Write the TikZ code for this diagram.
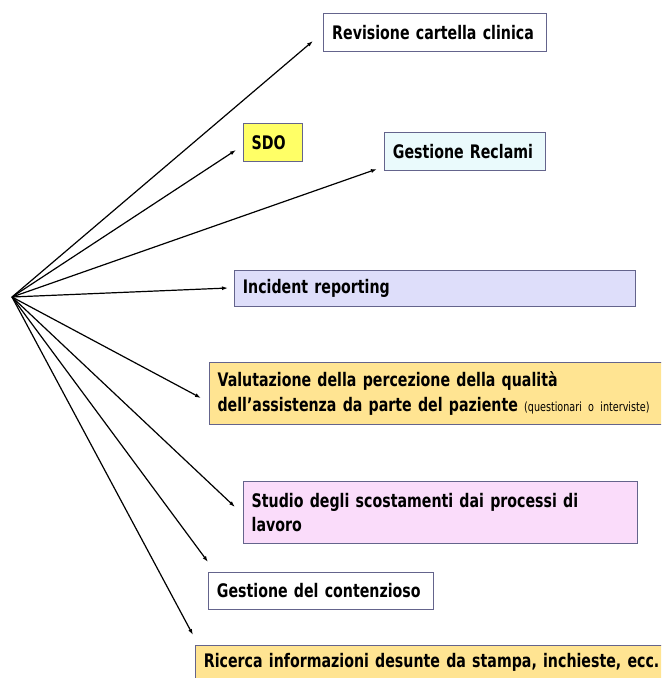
\documentclass[tikz,border=0pt]{standalone}
\usepackage{fontspec}
\setmainfont{DejaVu Sans}[FakeStretch=0.76]
\usetikzlibrary{arrows.meta}

\definecolor{bordo}{RGB}{100,100,140}
\definecolor{giallo}{RGB}{255,255,102}
\definecolor{azzurro}{RGB}{234,250,252}
\definecolor{lilla}{RGB}{222,222,250}
\definecolor{ocra}{RGB}{255,228,146}
\definecolor{rosa}{RGB}{250,220,250}

\tikzset{
  riquadro/.style={draw=bordo, line width=0.6pt, anchor=north west, align=left,
    inner xsep=6pt, inner ysep=0pt, font=\fontsize{14}{18.5}\selectfont\bfseries},
  freccia/.style={-{Latex[length=4.5pt,width=3pt]}, line width=0.9pt}
}

\begin{document}
\begin{tikzpicture}[x=0.75pt, y=-0.75pt]
\useasboundingbox (0,0) rectangle (661,678);
\clip (0,0) rectangle (661,678);

% Punto di partenza delle frecce
\coordinate (fonte) at (12,297);

% Punte delle frecce
\coordinate (pRev) at (313,41);
\coordinate (pSdo) at (236,150);
\coordinate (pRecl) at (377,169);
\coordinate (pInc) at (228,288);
\coordinate (pVal) at (201,398);
\coordinate (pStu) at (235,507);
\coordinate (pCont) at (208,562);
\coordinate (pRic) at (193,635);

% Frecce
\foreach \p in {pRev, pSdo, pRecl, pInc, pVal, pStu, pCont, pRic}
  \draw[freccia] (fonte) -- (\p);

% Riquadri in alto
\node[riquadro, fill=white, minimum width=167.25pt, minimum height=28.5pt,
  text width=154pt] (rev) at (323,13) {Revisione cartella clinica};
\node[riquadro, fill=giallo, minimum width=44.25pt, minimum height=28.5pt,
  text width=32pt] (sdo) at (243,123) {SDO};
\node[riquadro, fill=azzurro, minimum width=120.75pt, minimum height=28.5pt,
  text width=108pt] (recl) at (384,132) {Gestione Reclami};

% Riquadro centrale
\node[riquadro, fill=lilla, minimum width=300.75pt, minimum height=27pt,
  text width=288pt] (inc) at (234,270) {Incident reporting};

% Riquadri a due righe
\node[riquadro, fill=ocra, minimum width=353.25pt, minimum height=46.5pt,
  text width=341pt] (val) at (209,362)
  {Valutazione della percezione della qualità\\
   dell’assistenza da parte del paziente {\mdseries\fontsize{9.5}{12}\selectfont (questionari o interviste)}};
\node[riquadro, fill=rosa, minimum width=295.5pt, minimum height=46.5pt,
  text width=283pt] (stu) at (243,481)
  {Studio degli scostamenti dai processi di\\ lavoro};

% Riquadri in basso
\node[riquadro, fill=white, minimum width=168.75pt, minimum height=27.75pt,
  text width=156pt] (cont) at (208,572) {Gestione del contenzioso};
\node[riquadro, fill=ocra, minimum width=363.75pt, minimum height=25.5pt,
  text width=351pt, inner xsep=5.5pt] (ric) at (195,645) {Ricerca informazioni desunte da stampa, inchieste, ecc.};

\end{tikzpicture}
\end{document}
